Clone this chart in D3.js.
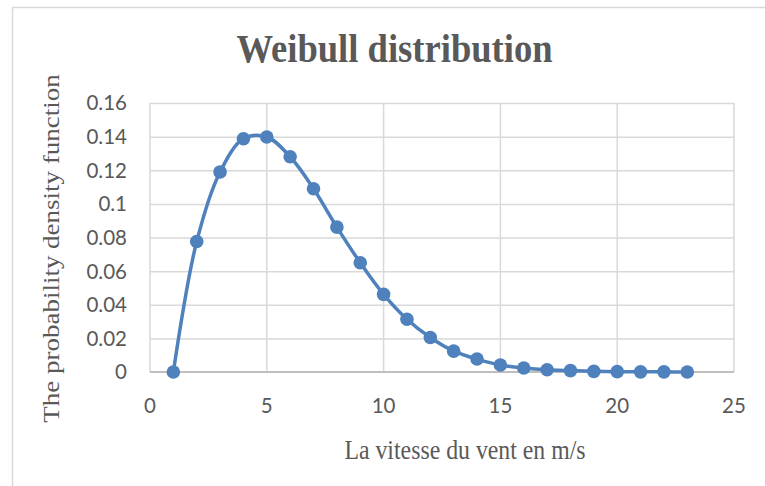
<!DOCTYPE html>
<html>
<head>
<meta charset="utf-8">
<script src="https://cdn.jsdelivr.net/npm/d3@7"></script>
<style>
  body { margin: 0; background: #fff; }
  svg { display: block; }
</style>
</head>
<body>
<svg id="chart" width="765" height="486"></svg>
<script>
// wind speed (m/s) and density
const speeds = [1, 2, 3, 4, 5, 6, 7, 8, 9, 10, 11, 12, 13, 14, 15, 16, 17, 18, 19, 20, 21, 22, 23];
const density = [0, 0.0776, 0.119, 0.1387, 0.1398, 0.128, 0.109, 0.0862, 0.065, 0.0462, 0.0314,
  0.0205, 0.0124, 0.0077, 0.0042, 0.0024, 0.0013, 0.0008, 0.0004, 0.0002, 0.0001, 0.0001, 0];
const xTicks = [0, 5, 10, 15, 20, 25];
const yTicks = [0, 0.02, 0.04, 0.06, 0.08, 0.1, 0.12, 0.14, 0.16];

const svg = d3.select('#chart');
const plotLeft = 150, plotRight = 734, plotTop = 103, plotBottom = 372;
const blue = '#4f81bd';
const textColor = '#595959';

const x = d3.scaleLinear().domain([0, 25]).range([plotLeft, plotRight]);
const y = d3.scaleLinear().domain([0, 0.16]).range([plotBottom, plotTop]);

// outer chart frame
svg.append('path')
  .attr('d', `M12.5,486 V7.5 H765`)
  .attr('fill', 'none')
  .attr('stroke', '#d9d9d9')
  .attr('stroke-width', 1.5);

// grid
const grid = svg.append('g');
grid.selectAll('.hgrid').data(yTicks.slice(1))
  .enter().append('line')
  .attr('x1', plotLeft).attr('x2', plotRight)
  .attr('y1', d => y(d) + 0.5).attr('y2', d => y(d) + 0.5)
  .attr('stroke', '#d9d9d9').attr('stroke-width', 1.5);
grid.selectAll('.vgrid').data(xTicks)
  .enter().append('line')
  .attr('x1', d => x(d)).attr('x2', d => x(d))
  .attr('y1', plotTop).attr('y2', plotBottom)
  .attr('stroke', '#d9d9d9').attr('stroke-width', 1.5);

// x axis line
svg.append('line')
  .attr('x1', plotLeft).attr('x2', plotRight)
  .attr('y1', plotBottom).attr('y2', plotBottom)
  .attr('stroke', '#bfbfbf').attr('stroke-width', 2);

// tick labels
const tickFont = 'Lato, "Open Sans", sans-serif';
svg.append('g').selectAll('text').data(xTicks)
  .enter().append('text')
  .attr('x', d => x(d))
  .attr('y', 413)
  .attr('text-anchor', 'middle')
  .attr('font-family', tickFont)
  .attr('font-size', 20.5)
  .attr('fill', textColor)
  .text(d => d);
svg.append('g').selectAll('text').data(yTicks)
  .enter().append('text')
  .attr('x', 127)
  .attr('y', d => y(d))
  .attr('dy', '0.36em')
  .attr('text-anchor', 'end')
  .attr('font-family', tickFont)
  .attr('font-size', 20.5)
  .attr('fill', textColor)
  .text(d => d);

// series
const line = d3.line()
  .x((d, i) => x(speeds[i]))
  .y(d => y(d))
  .curve(d3.curveCatmullRom.alpha(0.5));
svg.append('path')
  .datum(density)
  .attr('d', line)
  .attr('fill', 'none')
  .attr('stroke', blue)
  .attr('stroke-width', 3.5);
svg.append('g').selectAll('circle').data(density)
  .enter().append('circle')
  .attr('cx', (d, i) => x(speeds[i]))
  .attr('cy', d => y(d))
  .attr('r', 6.8)
  .attr('fill', blue);

// titles (the picture is narrowed a bit, hence the x scale)
const serif = '"Liberation Serif", "Times New Roman", serif';
svg.append('text')
  .attr('transform', 'translate(394.5,62) scale(0.915,1)')
  .attr('text-anchor', 'middle')
  .attr('font-family', serif)
  .attr('font-weight', 'bold')
  .attr('font-size', 40)
  .attr('fill', textColor)
  .text('Weibull distribution');
svg.append('text')
  .attr('transform', 'translate(58.5,248.5) scale(0.84,1) rotate(-90)')
  .attr('text-anchor', 'middle')
  .attr('font-family', serif)
  .attr('font-size', 27)
  .attr('fill', textColor)
  .text('The probability density function');
svg.append('text')
  .attr('transform', 'translate(465,459) scale(0.85,1)')
  .attr('text-anchor', 'middle')
  .attr('font-family', serif)
  .attr('font-size', 28)
  .attr('fill', textColor)
  .text('La vitesse du vent en m/s');
</script>
</body>
</html>
